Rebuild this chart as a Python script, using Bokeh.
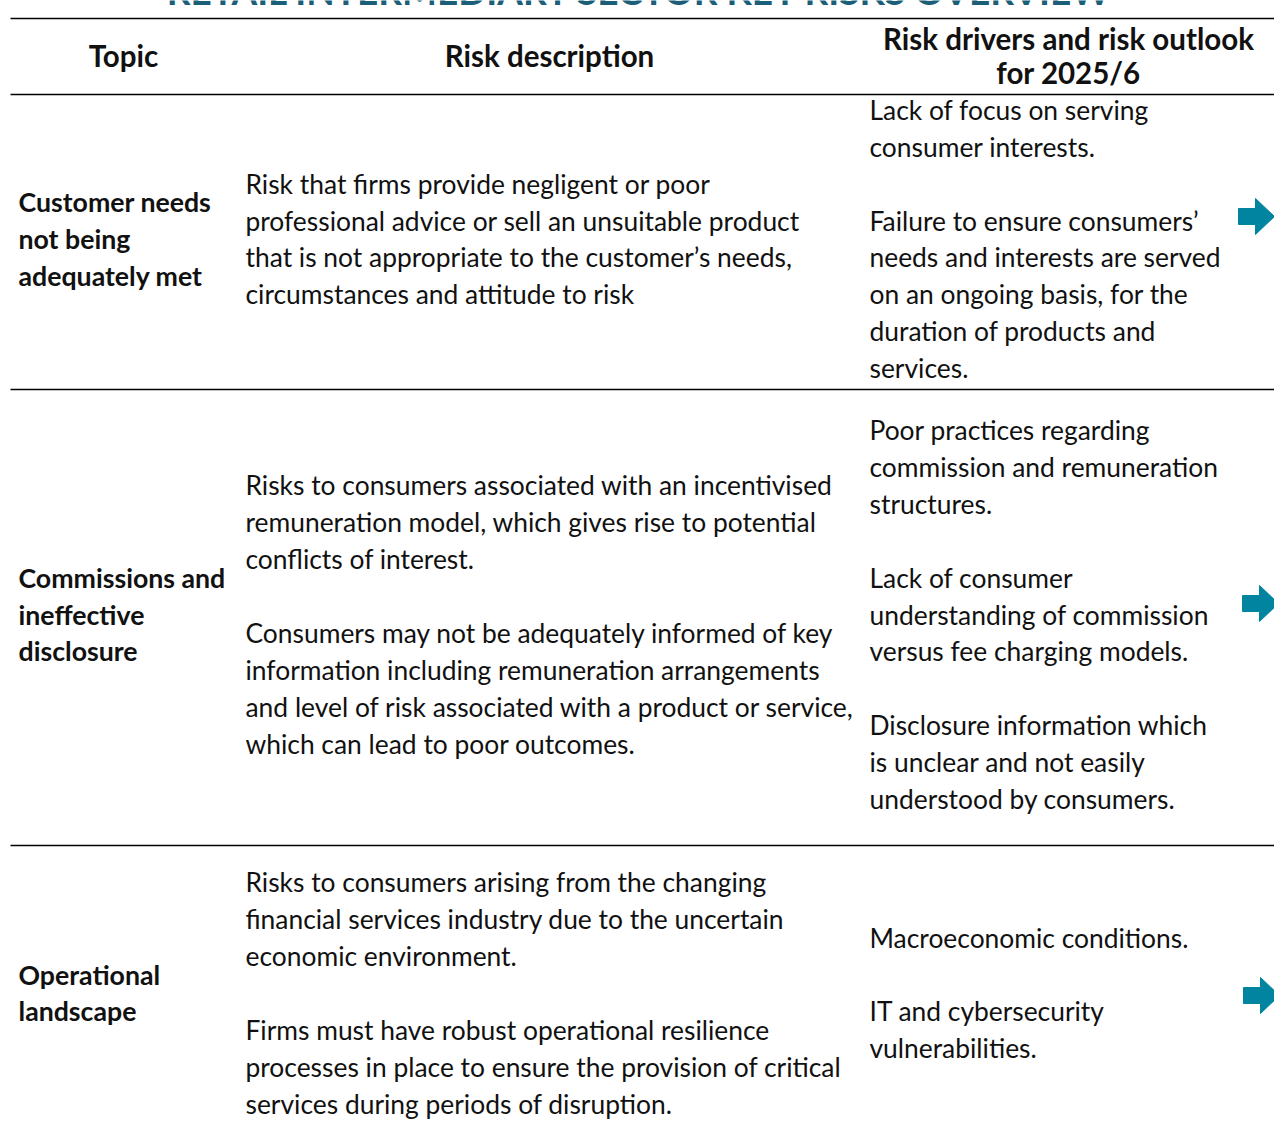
from bokeh.plotting import figure
from bokeh.models import Range1d
from bokeh.core.properties import value
from bokeh.embed import file_html
from bokeh.resources import INLINE

title_text = "RETAIL INTERMEDIARY SECTOR KEY RISKS OVERVIEW"
headers = ["Topic", "Risk description", "Risk drivers and risk outlook\nfor 2025/6"]

topics = [
    ["Customer needs", "not being", "adequately met"],
    ["Commissions and", "ineffective", "disclosure"],
    ["Operational", "landscape"],
]
descriptions = [
    ["Risk that firms provide negligent or poor",
     "professional advice or sell an unsuitable product",
     "that is not appropriate to the customer\u2019s needs,",
     "circumstances and attitude to risk"],
    ["Risks to consumers associated with an incentivised",
     "remuneration model, which gives rise to potential",
     "conflicts of interest.",
     "",
     "Consumers may not be adequately informed of key",
     "information including remuneration arrangements",
     "and level of risk associated with a product or service,",
     "which can lead to poor outcomes."],
    ["Risks to consumers arising from the changing",
     "financial services industry due to the uncertain",
     "economic environment.",
     "",
     "Firms must have robust operational resilience",
     "processes in place to ensure the provision of critical",
     "services during periods of disruption."],
]
drivers = [
    ["Lack of focus on serving",
     "consumer interests.",
     "",
     "Failure to ensure consumers\u2019",
     "needs and interests are served",
     "on an ongoing basis, for the",
     "duration of products and",
     "services."],
    ["Poor practices regarding",
     "commission and remuneration",
     "structures.",
     "",
     "Lack of consumer",
     "understanding of commission",
     "versus fee charging models.",
     "",
     "Disclosure information which",
     "is unclear and not easily",
     "understood by consumers."],
    ["Macroeconomic conditions.",
     "",
     "IT and cybersecurity",
     "vulnerabilities."],
]
# outlook arrows
arrow_y = [216, 603, 995]
arrow_x = [1238, 1242, 1243]

# layout (reference pixel coordinates)
W, H = 1274, 1140
rule_y = [18, 94, 389, 845]
row_bounds = [94, 389, 845, 1146]
col_x = [18, 245, 869]
header_x = [123, 549, 1068]
line_step = 36.9
dy = -3  # visual centering correction for text

TEAL = "#00849F"
TITLE_COL = "#1B5E78"
TXT = "#111111"
FONT = "Lato"

p = figure(width=W, height=H, output_backend="svg", toolbar_location=None,
           x_range=Range1d(0, W), y_range=Range1d(H, 0),
           min_border=0, outline_line_color=None)
p.axis.visible = False
p.grid.visible = False
p.background_fill_color = "white"
p.border_fill_color = "white"

# title (cut off at top as in reference)
p.text(x=[640], y=[-10], text=[title_text], text_font=value(FONT), text_font_style="bold",
       text_font_size="37px", text_color=TITLE_COL, text_align="center",
       text_baseline="alphabetic")

# rules
p.segment(x0=[10] * len(rule_y), x1=[W] * len(rule_y), y0=rule_y, y1=rule_y,
          line_color="black", line_width=1.5)

# headers
hx, hy, ht = [], [], []
for i, h in enumerate(headers):
    parts = h.split("\n")
    n = len(parts)
    c = 58
    for j, s in enumerate(parts):
        hx.append(header_x[i])
        hy.append(c + (j - (n - 1) / 2) * 34 + dy)
        ht.append(s)
p.text(x=hx, y=hy, text=ht, text_font=value(FONT), text_font_style="bold",
       text_font_size="29.5px", text_color=TXT, text_align="center", text_baseline="middle")


def cell_lines(lines, col, r):
    c = (row_bounds[r] + row_bounds[r + 1]) / 2
    n = len(lines)
    xs, ys, ts = [], [], []
    for j, s in enumerate(lines):
        if s:
            xs.append(col_x[col])
            ys.append(c + (j - (n - 1) / 2) * line_step + dy)
            ts.append(s)
    return xs, ys, ts


bx, by, bt = [], [], []
rx, ry, rt = [], [], []
for r in range(3):
    a = cell_lines(topics[r], 0, r)
    bx += a[0]; by += a[1]; bt += a[2]
    for col, cells in ((1, descriptions), (2, drivers)):
        a = cell_lines(cells[r], col, r)
        rx += a[0]; ry += a[1]; rt += a[2]

p.text(x=bx, y=by, text=bt, text_font=value(FONT), text_font_style="bold",
       text_font_size="26.7px", text_color=TXT, text_align="left", text_baseline="middle")
p.text(x=rx, y=ry, text=rt, text_font=value(FONT), text_font_size="26.4px",
       text_color=TXT, text_align="left", text_baseline="middle")

# arrows
xs, ys = [], []
for ax, ay in zip(arrow_x, arrow_y):
    s_len, h_len, s_half, h_half = 17, 19, 8, 18
    xs.append([ax, ax + s_len, ax + s_len, ax + s_len + h_len, ax + s_len, ax + s_len, ax])
    ys.append([ay - s_half, ay - s_half, ay - h_half, ay, ay + h_half, ay + s_half, ay + s_half])
p.patches(xs=xs, ys=ys, fill_color=TEAL, line_color=TEAL)

open("out.html", "w").write(file_html(p, INLINE))
